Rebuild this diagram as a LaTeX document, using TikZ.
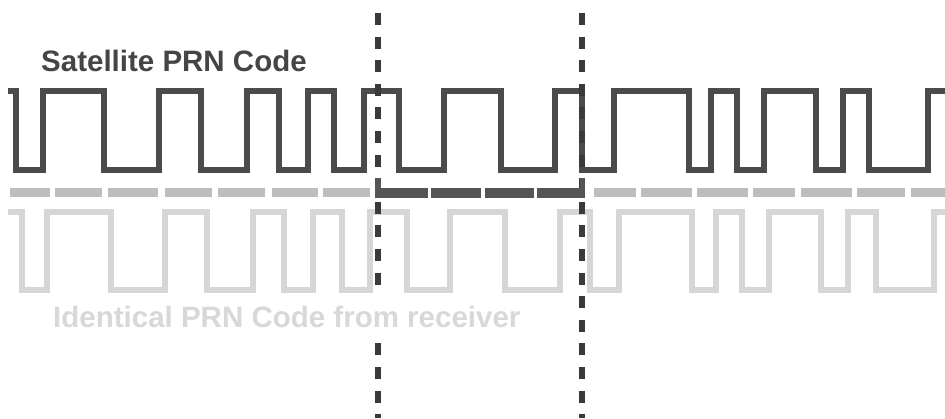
\documentclass[tikz,border=0pt]{standalone}
\usepackage{fontspec}
\setmainfont{Liberation Sans}
\definecolor{topc}{HTML}{4B4B4B}
\definecolor{botc}{HTML}{D6D6D6}
\definecolor{midc}{HTML}{BDBDBD}
\definecolor{darkc}{HTML}{555555}
\definecolor{dashc}{HTML}{3A3A3A}
\definecolor{txttop}{HTML}{454545}
\definecolor{txtbot}{HTML}{D8D8D8}
\tikzset{
  wave/.style={line width=5.8pt, line join=miter, line cap=butt},
  vline/.style={dashc, line width=5.5pt, dash pattern=on 12pt off 11.6pt},
  label/.style={inner xsep=0pt, inner ysep=0pt, anchor=base west, font=\bfseries\fontsize{29.5pt}{30pt}\selectfont}
}
\begin{document}
\begin{tikzpicture}[x=1pt,y=-1pt]
\useasboundingbox (0,0) rectangle (945,418);
\fill[white] (0,0) rectangle (945,418);
\clip (0,0) rectangle (945,418);

% receiver waveform (light)
\draw[wave, botc] (8,212) -| (22,290) -| (47,212) -| (111,290) -| (165,212) -| (207,290) -| (253,212) -| (284,290) -| (313,212) -| (342,290) -| (370,212) -| (407,290) -| (450,212) -| (505,290) -| (560,212) -| (590,290) -| (619,212) -| (692,290) -| (716,212) -| (742,290) -| (769,212) -| (821,290) -| (848,212) -| (876,290) -| (934,212) -- (955,212);

% chip markers (light)
\foreach \a/\b in {10/50,55/102,108/158,165/212,218/265,272/318,323/370,594/636,641/692,697/748,753/795,801/852,857/905,911/950}
  \fill[midc] (\a,188) rectangle (\b,197);

% satellite waveform (dark)
\draw[wave, topc] (8,91) -| (16,170) -| (43,91) -| (104,170) -| (159,91) -| (201,170) -| (247,91) -| (279,170) -| (308,91) -| (334,170) -| (364,91) -| (399,170) -| (444,91) -| (501,170) -| (555,91) -| (582,170) -| (614,91) -| (689,170) -| (711,91) -| (737,170) -| (764,91) -| (816,170) -| (843,91) -| (869,170) -| (928,91) -- (955,91);

% dashed vertical lines
\coordinate (l1) at (378,13);
\coordinate (l2) at (378,418);
\coordinate (r1) at (582,13);
\coordinate (r2) at (582,418);
\draw[vline] (l1) -- (l2);
\draw[vline] (r1) -- (r2);

% dark chip bracket
\foreach \a/\b in {377/428,431/481,485/534,537/583}
  \fill[darkc] (\a,188) rectangle (\b,197.5);
\fill[darkc] (375,178) rectangle (380.5,197.5);
\fill[darkc] (579.5,178) rectangle (585,197.5);

% labels
\node[label, text=txttop] (sat) at (41,71) {Satellite PRN Code};
\node[label, text=txtbot, fill=white, inner ysep=11pt] (rcv) at (53,327) {Identical PRN Code from receiver};
\end{tikzpicture}
\end{document}
